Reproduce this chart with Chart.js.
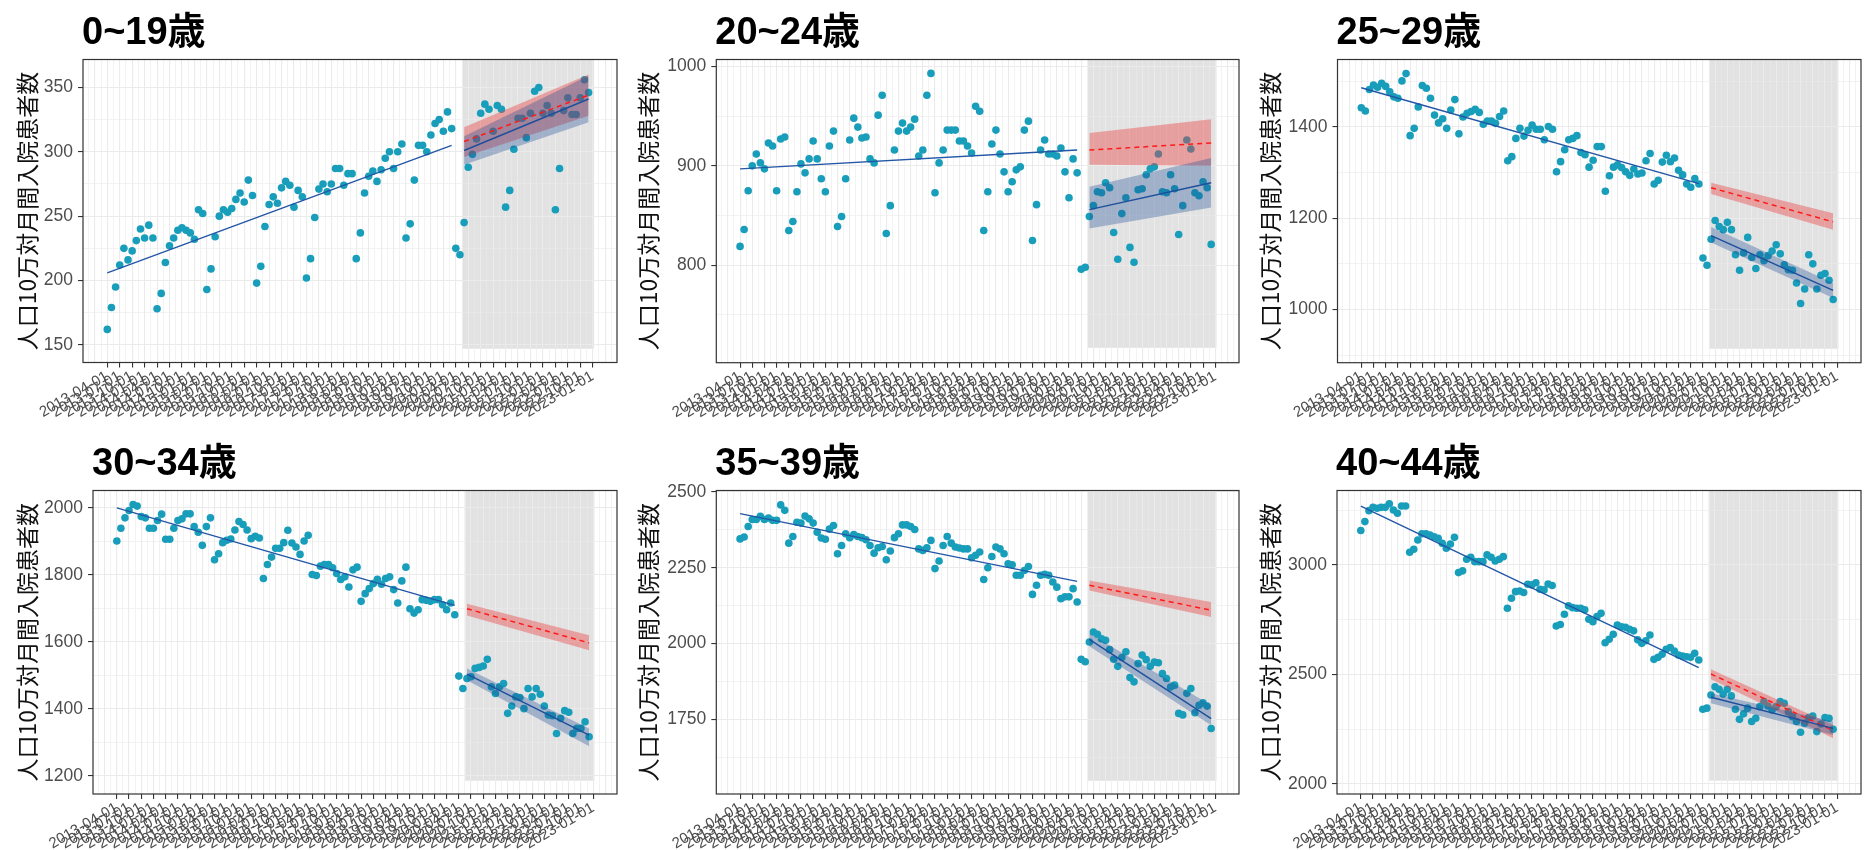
<!DOCTYPE html>
<html>
<head>
<meta charset="utf-8">
<script src="https://cdn.jsdelivr.net/npm/chart.js@4.4.1/dist/chart.umd.min.js"></script>
<style>
  html, body { margin: 0; padding: 0; background: #fff; }
  body { width: 1865px; height: 850px; position: relative; overflow: hidden; }
  canvas { position: absolute; }
</style>
</head>
<body>
<script>
const ageGroups = ["0~19歳", "20~24歳", "25~29歳", "30~34歳", "35~39歳", "40~44歳"];

// 月次の人口10万対入院患者数 2013-04 .. 2022-12
const rate0_19 = [
  162,179,195,212,225,216,223,231,240,233,243,233,
  178,190,214,227,233,239,241,239,237,232,255,252,
  193,209,234,250,255,253,256,263,268,261,278,266,
  198,211,242,259,265,260,272,277,274,257,270,265,
  202,217,249,271,275,269,275,287,287,274,283,283,
  217,237,268,281,285,277,286,295,300,287,300,306,
  233,244,278,305,305,300,313,322,325,316,331,318,
  225,220,245,288,298,310,330,337,333,316,336,333,
  257,270,302,326,326,311,330,347,350,330,336,330,
  255,287,332,342,329,329,342,356,346
];
const rate20_24 = [
  819,836,875,900,912,903,897,923,920,875,927,929,
  835,844,874,902,893,907,925,907,887,874,920,935,
  839,849,887,926,948,939,928,929,907,903,951,971,
  832,860,916,935,943,935,939,947,910,916,971,993,
  873,903,916,936,936,936,925,925,920,913,960,955,
  835,874,922,936,912,894,874,884,896,899,936,945,
  825,861,916,926,912,912,910,918,894,868,907,893,
  796,798,849,860,874,873,883,878,833,806,852,868,
  818,803,876,877,891,897,899,912,874,873,891,877,
  831,860,926,917,873,870,884,878,821
];
const rate25_29 = [
  1442,1435,1482,1492,1487,1496,1489,1477,1466,1463,1501,1517,
  1381,1397,1444,1491,1485,1463,1426,1409,1418,1397,1437,1460,
  1385,1422,1430,1434,1439,1432,1406,1413,1413,1408,1423,1435,
  1326,1335,1375,1397,1380,1393,1404,1395,1395,1372,1401,1395,
  1302,1324,1350,1372,1375,1381,1344,1339,1312,1327,1357,1357,
  1259,1293,1312,1317,1311,1302,1294,1308,1297,1299,1326,1342,
  1275,1283,1323,1338,1324,1332,1305,1295,1275,1268,1287,1275,
  1113,1097,1154,1195,1182,1175,1191,1175,1120,1086,1124,1158,
  1114,1090,1120,1107,1118,1128,1142,1122,1098,1087,1086,1058,
  1013,1045,1120,1100,1045,1075,1079,1064,1022
];
const rate30_34 = [
  1901,1939,1970,1992,2010,2005,1974,1970,1939,1939,1962,1981,
  1906,1906,1939,1962,1967,1982,1982,1944,1927,1888,1944,1970,
  1845,1863,1896,1903,1907,1934,1959,1950,1934,1908,1915,1910,
  1789,1831,1853,1879,1879,1896,1933,1895,1883,1861,1901,1918,
  1801,1798,1826,1831,1831,1821,1804,1786,1794,1764,1815,1823,
  1721,1744,1759,1774,1787,1772,1789,1794,1756,1716,1782,1823,
  1699,1686,1696,1726,1724,1721,1726,1726,1711,1696,1716,1681,
  1498,1461,1491,1496,1521,1524,1528,1548,1466,1446,1466,1476,
  1387,1409,1436,1434,1401,1461,1436,1461,1444,1409,1382,1380,
  1327,1372,1395,1390,1327,1342,1342,1362,1317
];
const rate35_39 = [
  2345,2351,2386,2409,2409,2419,2409,2414,2406,2406,2457,2439,
  2331,2353,2400,2397,2420,2411,2397,2367,2348,2344,2377,2389,
  2296,2323,2362,2349,2359,2353,2349,2342,2323,2298,2316,2320,
  2276,2305,2349,2362,2391,2391,2386,2376,2312,2307,2316,2340,
  2247,2272,2323,2353,2331,2318,2315,2312,2312,2283,2291,2302,
  2211,2250,2287,2318,2312,2296,2263,2260,2225,2225,2241,2254,
  2162,2192,2225,2228,2225,2203,2186,2148,2154,2154,2181,2137,
  1948,1940,2005,2038,2031,2016,2011,1980,1948,1925,1954,1973,
  1888,1874,1934,1962,1947,1925,1939,1937,1901,1885,1857,1863,
  1770,1765,1836,1852,1772,1797,1805,1794,1720
];
const rate40_44 = [
  3157,3198,3248,3263,3259,3263,3263,3279,3251,3236,3269,3269,
  3058,3072,3114,3142,3142,3137,3129,3122,3099,3076,3096,3126,
  2965,2973,3026,3035,3015,3015,3015,3046,3035,3018,3026,3038,
  2802,2848,2878,2881,2874,2912,2909,2919,2889,2886,2913,2906,
  2721,2728,2775,2814,2805,2802,2802,2795,2752,2741,2764,2779,
  2645,2661,2683,2726,2718,2715,2706,2699,2658,2642,2654,2680,
  2569,2578,2592,2615,2623,2607,2589,2584,2581,2578,2597,2566,
  2341,2346,2406,2444,2432,2411,2432,2402,2341,2295,2320,2346,
  2285,2300,2353,2376,2356,2338,2353,2376,2368,2330,2307,2285,
  2236,2277,2303,2310,2239,2274,2303,2300,2250
];

// 回帰線（始点, 終点）
const preMonths = [0, 83];     // 2013-04 .. 2020-03
const postMonths = [86, 116];  // 2020-06 .. 2022-12
const shadeMonths = [85.6, 117.3];
const preFit   = [[206,305],[897,916],[1486,1276],[2000,1709],[2428,2205],[3269,2531]];
const cfFit    = [[308,344],[916,923],[1267,1192],[1699,1597],[2192,2110],[2502,2244]];
const cfLow    = [[296,328],[901,900],[1253,1175],[1679,1575],[2175,2088],[2478,2209]];
const cfHigh   = [[319,360],[933,947],[1278,1211],[1714,1620],[2208,2137],[2524,2269]];
const postFit  = [[301,341],[856,883],[1162,1042],[1504,1322],[2014,1753],[2396,2254]];
const postLow  = [[290,323],[837,858],[1147,1025],[1486,1289],[1991,1731],[2368,2224]];
const postHigh = [[312,359],[879,908],[1181,1058],[1521,1342],[2033,1797],[2414,2285]];
const shadeFloor = [147, 717, 914, 1186, 1548, 2015];

const yLimits = [[136.3,371.7],[702,1007],[883.4,1547.9],[1146.4,2051.6],[1504.4,2504.4],[1954,3340]];
const yStep = [50, 100, 200, 200, 250, 500];

const rates = [rate0_19, rate20_24, rate25_29, rate30_34, rate35_39, rate40_44];

// canvas placement
const frames = [
  { left: 0,    top: 0,   width: 621, height: 425, yAxisW: 83,   padRight: 2.5, padTop: 59.5, xAxisH: 62.5 },
  { left: 621,  top: 0,   width: 622, height: 425, yAxisW: 95.3, padRight: 1.8, padTop: 59.5, xAxisH: 62.3 },
  { left: 1243, top: 0,   width: 622, height: 425, yAxisW: 94.5, padRight: 2,   padTop: 59.5, xAxisH: 62.3 },
  { left: 0,    top: 425, width: 621, height: 425, yAxisW: 93,   padRight: 2,   padTop: 65.5, xAxisH: 56 },
  { left: 621,  top: 425, width: 622, height: 425, yAxisW: 95.3, padRight: 1.5, padTop: 65.5, xAxisH: 56 },
  { left: 1243, top: 425, width: 622, height: 425, yAxisW: 94,   padRight: 2,   padTop: 65.5, xAxisH: 56 }
];

const teal = "rgb(24,158,186)";

function monthLabel(m) {
  const d = new Date(2013, 3 + m, 1);
  return d.getFullYear() + "-" + String(d.getMonth() + 1).padStart(2, "0") + "-01";
}

function isMultiple(v, step) {
  const r = v / step;
  return Math.abs(r - Math.round(r)) < 1e-6;
}

function isDateTick(v) {
  return isMultiple(v, 3) && v >= 0 && v <= 117;
}

const xGridMonths = [];
for (let m = -4.5; m <= 121.5; m += 1.5) xGridMonths.push(m);

const panelDecor = {
  id: "panelDecor",
  beforeDraw(chart, args, o) {
    const { ctx, chartArea: a, scales } = chart;
    const x0 = scales.x.getPixelForValue(shadeMonths[0]);
    const x1 = scales.x.getPixelForValue(shadeMonths[1]);
    const yb = scales.y.getPixelForValue(o.floor);
    ctx.save();
    ctx.fillStyle = "#e2e2e2";
    ctx.fillRect(x0, a.top, x1 - x0, yb - a.top);
    ctx.restore();
  },
  afterDraw(chart, args, o) {
    const { ctx, chartArea: a } = chart;
    ctx.save();
    ctx.strokeStyle = "#333";
    ctx.lineWidth = 1.2;
    ctx.strokeRect(a.left, a.top, a.right - a.left, a.bottom - a.top);
    ctx.fillStyle = "#000";
    ctx.font = 'bold 38px "Liberation Sans", "Noto Sans CJK JP", sans-serif';
    ctx.textBaseline = "alphabetic";
    ctx.fillText(o.title, a.left - 1, a.top - 16);
    ctx.restore();
  }
};

function seg(vals, months) {
  return months.map((m, k) => ({ x: m, y: vals[k] }));
}

ageGroups.forEach((name, i) => {
  const f = frames[i];
  const cv = document.createElement("canvas");
  cv.width = f.width;
  cv.height = f.height;
  cv.style.left = f.left + "px";
  cv.style.top = f.top + "px";
  document.body.appendChild(cv);

  const step = yStep[i];
  const half = step / 2;
  const [ymin, ymax] = yLimits[i];
  const bandLine = { showLine: true, borderWidth: 0, borderColor: "rgba(0,0,0,0)", pointRadius: 0 };

  new Chart(cv, {
    type: "scatter",
    data: {
      datasets: [
        { data: rates[i].map((v, m) => ({ x: m, y: v })), backgroundColor: teal, borderWidth: 0, pointRadius: 3.8, order: 10 },
        { ...bandLine, data: seg(cfHigh[i], postMonths), fill: "+1", backgroundColor: "rgba(238,60,60,0.40)", order: 8 },
        { ...bandLine, data: seg(cfLow[i], postMonths), order: 8 },
        { ...bandLine, data: seg(postHigh[i], postMonths), fill: "+1", backgroundColor: "rgba(30,78,150,0.34)", order: 7 },
        { ...bandLine, data: seg(postLow[i], postMonths), order: 7 },
        { data: seg(cfFit[i], postMonths), showLine: true, borderColor: "#ff1a1a", borderWidth: 1.5, borderDash: [5, 4], pointRadius: 0, order: 3 },
        { data: seg(postFit[i], postMonths), showLine: true, borderColor: "#1d4f9c", borderWidth: 1.4, pointRadius: 0, order: 2 },
        { data: seg(preFit[i], preMonths), showLine: true, borderColor: "#2256a6", borderWidth: 1.4, pointRadius: 0, order: 2 }
      ]
    },
    options: {
      responsive: false,
      animation: false,
      devicePixelRatio: 1,
      events: [],
      layout: { padding: { top: f.padTop, right: f.padRight, left: 0, bottom: 0 } },
      plugins: {
        legend: { display: false },
        tooltip: { enabled: false },
        panelDecor: { title: name, floor: shadeFloor[i] }
      },
      scales: {
        x: {
          type: "linear", min: -5.85, max: 122.85, bounds: "data",
          afterBuildTicks: ax => { ax.ticks = xGridMonths.map(v => ({ value: v })); },
          afterFit: ax => { ax.height = f.xAxisH; },
          border: { display: false },
          grid: {
            color: "#ebebeb",
            lineWidth: c => isMultiple(c.tick.value, 3) ? 1.1 : 0.6,
            tickLength: 5,
            tickColor: c => isDateTick(c.tick.value) ? "#333" : "rgba(0,0,0,0)"
          },
          ticks: {
            autoSkip: false, minRotation: 30, maxRotation: 30, padding: 0,
            color: "#4d4d4d",
            font: { family: '"Liberation Sans"', size: 15 },
            callback: v => isDateTick(v) ? monthLabel(v) : ""
          }
        },
        y: {
          type: "linear", min: ymin, max: ymax, bounds: "data",
          afterBuildTicks: ax => {
            const t = [];
            for (let v = Math.ceil(ymin / half) * half; v <= ymax; v += half) t.push({ value: v });
            ax.ticks = t;
          },
          afterFit: ax => { ax.width = f.yAxisW; },
          border: { display: false },
          grid: {
            color: "#ebebeb",
            lineWidth: c => isMultiple(c.tick.value, step) ? 1.1 : 0.6,
            tickLength: 5,
            tickColor: c => isMultiple(c.tick.value, step) ? "#333" : "rgba(0,0,0,0)"
          },
          ticks: {
            autoSkip: false, padding: 5,
            color: "#4d4d4d",
            font: { family: '"Liberation Sans"', size: 17.5 },
            callback: v => isMultiple(v, step) ? String(v) : ""
          },
          title: {
            display: true,
            text: "人口10万対月間入院患者数",
            color: "#111",
            font: { family: '"Noto Sans CJK JP"', size: 23 },
            padding: { top: 13, bottom: 0 }
          }
        }
      }
    },
    plugins: [panelDecor]
  });
});
</script>
</body>
</html>
